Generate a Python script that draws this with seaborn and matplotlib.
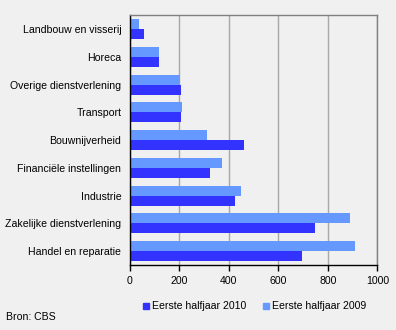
import matplotlib
matplotlib.use("Agg")
import matplotlib.pyplot as plt
from matplotlib.patches import Rectangle
import pandas as pd
import seaborn as sns

categories = [
    "Landbouw en visserij",
    "Horeca",
    "Overige dienstverlening",
    "Transport",
    "Bouwnijverheid",
    "Financiële instellingen",
    "Industrie",
    "Zakelijke dienstverlening",
    "Handel en reparatie",
]
values_2010 = [58, 118, 207, 207, 462, 325, 426, 747, 695]
values_2009 = [38, 118, 203, 211, 312, 373, 450, 889, 909]
series_2010 = "Eerste halfjaar 2010"
series_2009 = "Eerste halfjaar 2009"
x_ticks = [0, 200, 400, 600, 800, 1000]

color_2010 = "#3333ff"
color_2009 = "#6699ff"
bg = "#f0f0f0"
fs = 7.6

df = pd.concat([
    pd.DataFrame({"sector": categories, "aantal": values_2009, "periode": series_2009}),
    pd.DataFrame({"sector": categories, "aantal": values_2010, "periode": series_2010}),
])

sns.set_style("white")
plt.rcParams["font.family"] = ["Liberation Sans", "DejaVu Sans"]
plt.rcParams["font.size"] = fs
plt.rcParams["text.color"] = "black"
plt.rcParams["xtick.color"] = "black"
plt.rcParams["ytick.color"] = "black"

fig = plt.figure(figsize=(3.96, 3.30), dpi=100, facecolor=bg)
W, H = 396, 330
ax = fig.add_axes([129.7 / W, 1 - 265 / H, (377.3 - 129.7) / W, (265 - 15.3) / H])
ax.set_facecolor(bg)

sns.barplot(
    data=df, y="sector", x="aantal", hue="periode",
    hue_order=[series_2009, series_2010],
    palette=[color_2009, color_2010],
    orient="h", width=0.72, saturation=1, dodge=True,
    linewidth=0, ax=ax, legend=False,
)

ax.set_xlim(0, 1000)
ax.set_xticks(x_ticks)
ax.set_xticklabels([str(t) for t in x_ticks])
ax.set_xlabel("")
ax.set_ylabel("")
ax.xaxis.grid(True, color="#a8a8a8", linewidth=1)
ax.yaxis.grid(False)
ax.set_axisbelow(True)

for side in ("top", "right"):
    ax.spines[side].set_color("#808080")
    ax.spines[side].set_linewidth(1)
for side in ("left", "bottom"):
    ax.spines[side].set_color("black")
    ax.spines[side].set_linewidth(1)

ax.tick_params(axis="x", direction="out", length=4, width=1, color="black",
               pad=4, labelsize=fs, labelcolor="black", bottom=True)
ax.tick_params(axis="y", length=0, pad=6, labelsize=fs, labelcolor="black")

# legend below the plot
for sx, label, col in [(143, series_2010, color_2010), (263, series_2009, color_2009)]:
    fig.patches.append(Rectangle((sx / W, 1 - 309 / H), 6 / W, 6 / H,
                                 transform=fig.transFigure, color=col, figure=fig))
    fig.text((sx + 9) / W, 1 - 306 / H, label, fontsize=fs, va="center", ha="left",
             color="black")

fig.text(6 / W, 1 - 317 / H, "Bron: CBS", fontsize=fs, va="center", ha="left",
         color="black")

fig.savefig("out.png", dpi=100, facecolor=bg)
